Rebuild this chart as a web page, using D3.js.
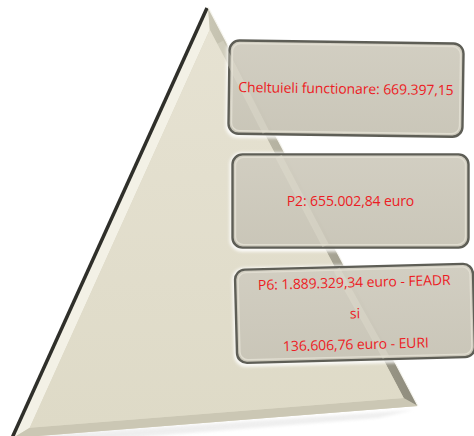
<!DOCTYPE html>
<html>
<head>
<meta charset="utf-8">
<script src="https://cdn.jsdelivr.net/npm/d3@7"></script>
<style>
  body { margin: 0; background: #fff; }
  svg { display: block; }
</style>
</head>
<body>
<div id="chart"></div>
<script>
// pyramid levels, top to bottom
const levels = ['functionare', 'P2', 'P6'];
const levelLines = [
    ['Cheltuieli functionare: 669.397,15'],
    ['P2: 655.002,84 euro'],
    ['P6: 1.889.329,34 euro - FEADR', 'si', '136.606,76 euro - EURI']
];
const levelTilt = [0.8, 0, -1.5];

const width = 474, height = 436;

const $svg = d3.select('#chart').append('svg')
    .attr('width', width)
    .attr('height', height);

const defs = $svg.append('defs');

const faceGrad = defs.append('linearGradient')
    .attr('id', 'face').attr('x1', 0).attr('y1', 0).attr('x2', 0).attr('y2', 1);
faceGrad.append('stop').attr('offset', '0%').attr('stop-color', '#e6e2d2');
faceGrad.append('stop').attr('offset', '100%').attr('stop-color', '#dedac7');

const rightGrad = defs.append('linearGradient')
    .attr('id', 'rightFace').attr('x1', 0).attr('y1', 0).attr('x2', 1).attr('y2', 0);
rightGrad.append('stop').attr('offset', '0%').attr('stop-color', '#c9c6b4');
rightGrad.append('stop').attr('offset', '100%').attr('stop-color', '#8f8c7d');

const boxGrad = defs.append('linearGradient')
    .attr('id', 'boxFill').attr('x1', 0).attr('y1', 0).attr('x2', 0).attr('y2', 1);
boxGrad.append('stop').attr('offset', '0%').attr('stop-color', '#cdc9bb').attr('stop-opacity', 0.9);
boxGrad.append('stop').attr('offset', '100%').attr('stop-color', '#c4c0b1').attr('stop-opacity', 0.9);

const blur = defs.append('filter').attr('id', 'glow')
    .attr('x', '-10%').attr('y', '-10%').attr('width', '120%').attr('height', '130%');
blur.append('feGaussianBlur').attr('stdDeviation', 1.6);

// ---- triangle ----
const apex = [208, 7], bl = [13, 438], br = [418, 406];
const outer = [apex, bl, br];

// inset each edge inward and intersect to get inner face
function insetPoly(pts, d) {
    const n = pts.length;
    const cx = d3.mean(pts, p => p[0]), cy = d3.mean(pts, p => p[1]);
    const lines = pts.map((p, i) => {
        const q = pts[(i + 1) % n];
        let nx = -(q[1] - p[1]), ny = q[0] - p[0];
        const len = Math.hypot(nx, ny);
        nx /= len; ny /= len;
        if ((cx - p[0]) * nx + (cy - p[1]) * ny < 0) { nx = -nx; ny = -ny; }
        const dd = Array.isArray(d) ? d[i] : d;
        return [[p[0] + nx * dd, p[1] + ny * dd], [q[0] + nx * dd, q[1] + ny * dd]];
    });
    return lines.map((l, i) => {
        const m = lines[(i + n - 1) % n];
        const [a, b] = m, [c, e] = l;
        const d1 = [b[0] - a[0], b[1] - a[1]], d2 = [e[0] - c[0], e[1] - c[1]];
        const den = d1[0] * d2[1] - d1[1] * d2[0];
        const t = ((c[0] - a[0]) * d2[1] - (c[1] - a[1]) * d2[0]) / den;
        return [a[0] + d1[0] * t, a[1] + d1[1] * t];
    });
}

const inner = insetPoly(outer, [11, 9, 9]);
const line = d3.line();

const $tri = $svg.append('g').attr('class', 'pyramid');

// soft shadow under the base
$tri.append('path')
    .attr('d', line([[bl[0] + 20, bl[1] - 2], [br[0] - 5, br[1] + 4], [br[0] - 40, br[1] + 12], [bl[0] + 40, bl[1] + 6]]) + 'Z')
    .attr('fill', '#e4e4e4').attr('filter', 'url(#glow)').attr('opacity', 0.6);

$tri.append('path').attr('d', line(outer) + 'Z').attr('fill', '#d9d5c2');

// bevel faces
$tri.append('path').attr('d', line([outer[0], outer[1], inner[1], inner[0]]) + 'Z').attr('fill', '#f3f1e6');
$tri.append('path').attr('d', line([outer[1], outer[2], inner[2], inner[1]]) + 'Z').attr('fill', '#cbc7b4');
$tri.append('path').attr('d', line([outer[2], outer[0], inner[0], inner[2]]) + 'Z').attr('fill', 'url(#rightFace)');
$tri.append('path').attr('d', line(inner) + 'Z').attr('fill', 'url(#face)');

// dark outer edge on the left side
$tri.append('path')
    .attr('d', line([[apex[0] - 1, apex[1] + 1], [bl[0] - 1, bl[1]]]))
    .attr('stroke', '#2f2f2a').attr('stroke-width', 3.5).attr('fill', 'none');
$tri.append('path')
    .attr('d', line([apex, br]))
    .attr('stroke', '#f7f6f0').attr('stroke-width', 1.2).attr('fill', 'none');

// ---- boxes ----
const y = d3.scaleBand()
    .domain(levels)
    .range([42, 360])
    .paddingInner(0.17)
    .paddingOuter(0);

const boxX = d3.scaleLinear().domain([0, 2]).range([229, 236]);
const boxW = d3.scaleLinear().domain([0, 2]).range([234, 238]);

const $boxes = $svg.append('g').attr('class', 'boxes')
    .selectAll('g')
    .data(levels)
    .join('g')
    .attr('transform', (d, i) => {
        const x0 = boxX(i), w = boxW(i);
        return `rotate(${levelTilt[i]},${x0 + w / 2},${y(d) + y.bandwidth() / 2})`;
    });

// white halo
$boxes.append('rect')
    .attr('x', (d, i) => boxX(i) - 3)
    .attr('y', d => y(d) - 2)
    .attr('width', (d, i) => boxW(i) + 5)
    .attr('height', y.bandwidth() + 6)
    .attr('rx', 12)
    .attr('fill', '#ffffff').attr('opacity', 0.85)
    .attr('filter', 'url(#glow)');

// dark bevel rim
$boxes.append('rect')
    .attr('x', (d, i) => boxX(i))
    .attr('y', d => y(d))
    .attr('width', (d, i) => boxW(i))
    .attr('height', y.bandwidth())
    .attr('rx', 10)
    .attr('fill', 'url(#boxFill)')
    .attr('stroke', '#5e5e56')
    .attr('stroke-width', 2.4);

// inner highlight
$boxes.append('rect')
    .attr('x', (d, i) => boxX(i) + 3)
    .attr('y', d => y(d) + 3)
    .attr('width', (d, i) => boxW(i) - 6)
    .attr('height', y.bandwidth() - 6)
    .attr('rx', 8)
    .attr('fill', 'none')
    .attr('stroke', '#e2dfd3')
    .attr('stroke-width', 1.4)
    .attr('opacity', 0.9);

// the triangle's right edge shows through the boxes
$boxes.append('path')
    .attr('d', (d, i) => {
        const y0 = y(d) + 2, y1 = y(d) + y.bandwidth() - 2;
        const xAt = yy => apex[0] + (br[0] - apex[0]) * (yy - apex[1]) / (br[1] - apex[1]);
        return line([[xAt(y0) - 8, y0], [xAt(y1) - 8, y1]]);
    })
    .attr('stroke', '#e4e1d4').attr('stroke-width', 7).attr('opacity', 0.35).attr('fill', 'none');

$boxes.each(function (d, i) {
    const lines = levelLines[i];
    const cx = boxX(i) + boxW(i) / 2;
    const cy = y(d) + y.bandwidth() / 2;
    const lh = 31;
    d3.select(this).append('text')
        .attr('text-anchor', 'middle')
        .attr('font-family', '"Open Sans", sans-serif')
        .attr('font-size', 14)
        .attr('letter-spacing', -0.1)
        .attr('fill', '#ec1c24')
        .selectAll('tspan')
        .data(lines)
        .join('tspan')
        .attr('x', cx)
        .attr('y', (t, j) => cy + (j - (lines.length - 1) / 2) * lh + 5)
        .text(t => t);
});
</script>
</body>
</html>
